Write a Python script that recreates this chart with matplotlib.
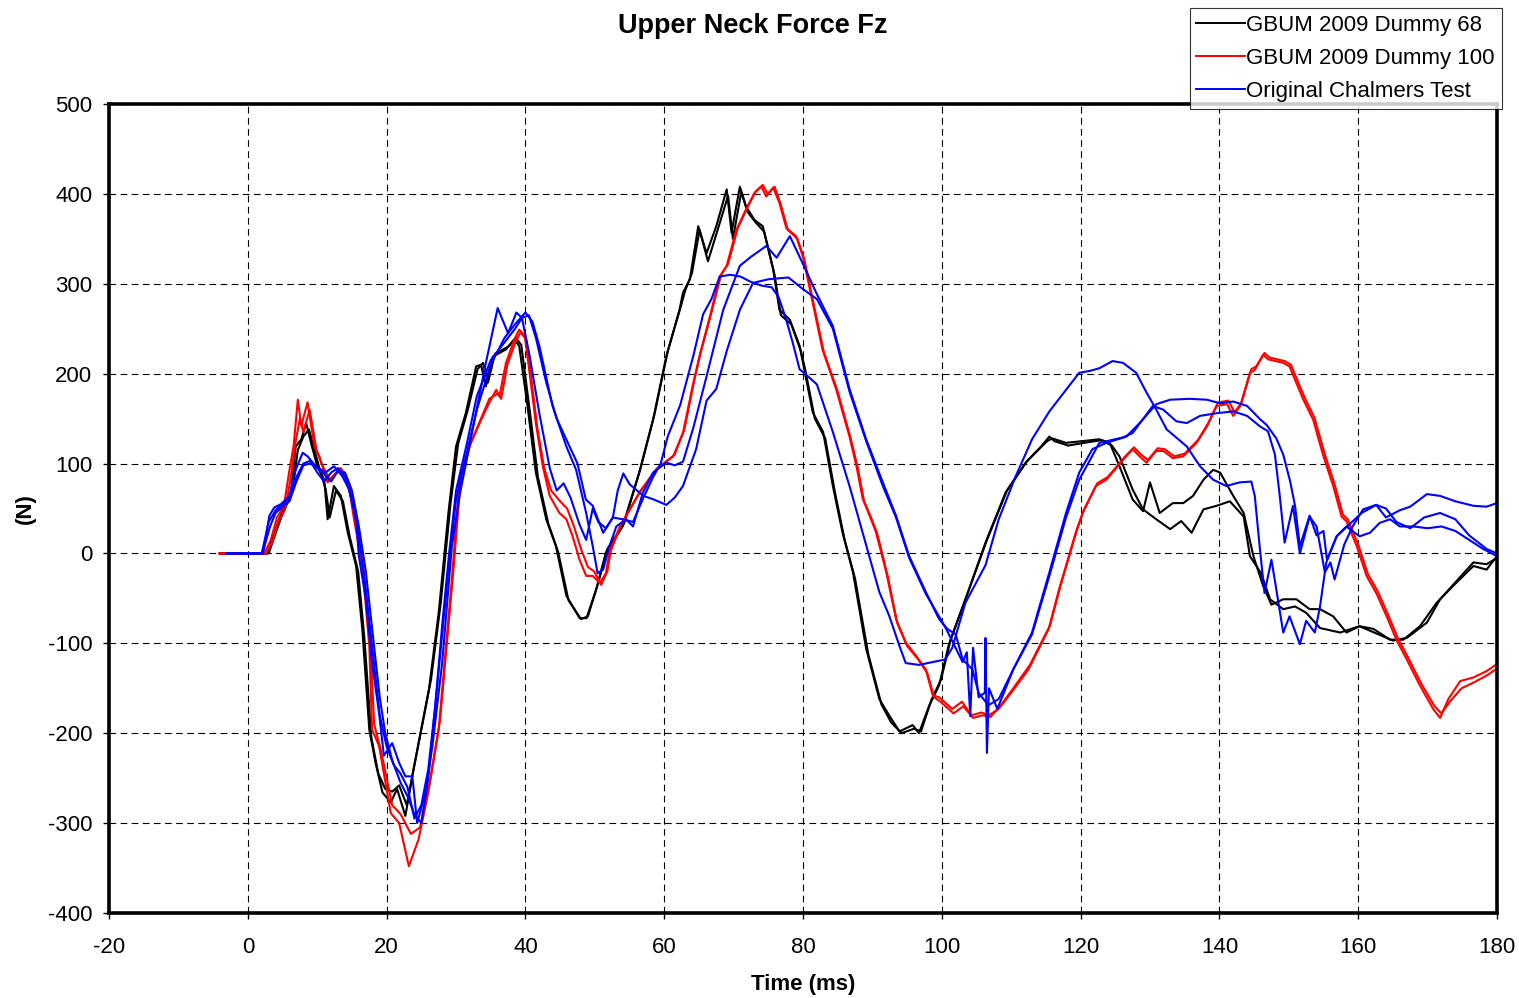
import numpy as np
import matplotlib
matplotlib.use("Agg")
import matplotlib.pyplot as plt

plt.rcParams['font.family'] = ['Liberation Sans', 'DejaVu Sans']
plt.rcParams['axes.unicode_minus'] = False

# Upper neck axial force, (time ms, force N) samples for each test
dummy68_a = [
    (-4, 0), (2.8, 0), (3.5, 15), (4.5, 38), (5.5, 55), (6.2, 67), (6.9, 119), (7.7, 127),
    (8.4, 145), (9.1, 123), (10, 97), (11, 82), (11.5, 38), (12.4, 75), (13.4, 64),
    (14.4, 23), (15.6, -14), (16.5, -85), (17.5, -196), (18.4, -233), (19.4, -266),
    (20.6, -277), (21.5, -262), (22.7, -292), (23.7, -248), (24.9, -199), (26.1, -151),
    (27.5, -66), (28.9, 45), (30, 119), (31.4, 156), (32.9, 208), (33.6, 210), (34.3, 186),
    (35.3, 219), (37.2, 227), (38.4, 238), (39.1, 231), (40.3, 164), (41.5, 90), (43, 38),
    (44.4, 8), (45.9, -47), (47.8, -72), (48.8, -72), (50.2, -40), (51.6, 1), (54, 30),
    (56.4, 90), (58.4, 149), (60.3, 219), (62.2, 271), (62.7, 290), (63.7, 305), (64.9, 364),
    (66.1, 334), (67.5, 364), (69, 405), (69.7, 357), (70.9, 408), (71.8, 386), (73, 371),
    (74.2, 364), (75.7, 316), (76.6, 271), (78.1, 260), (79.5, 231), (80, 212), (81.4, 157),
    (82.9, 135), (84.3, 75), (85.7, 23), (87.2, -21), (89.1, -106), (91, -162), (92.4, -180),
    (93.9, -198), (95.8, -191), (96.7, -200), (98.2, -169), (99.6, -147), (101, -102),
    (103.4, -51), (106.3, 12), (109.2, 68), (112.1, 101), (114, 116), (115.2, 125),
    (115.9, 128), (117.9, 123), (120.3, 125), (122.7, 127), (124.2, 123), (125.6, 97),
    (127.5, 60), (129, 47), (130, 79), (131.4, 45), (133.3, 56), (134.8, 56), (136.2, 64),
    (137.7, 82), (139.1, 93), (140.1, 90), (142, 64), (143.5, 45), (144.9, -3), (146.3, -36),
    (147.5, -57), (149.2, -51), (151.1, -51), (153, -62), (154.5, -62), (156.4, -70),
    (158.3, -88), (160.2, -81), (162.2, -84), (164.6, -96), (166.5, -96), (168.9, -81),
    (171.3, -55), (173.7, -36), (176.6, -14), (178.5, -18), (180, -3),
]
dummy68_b = [
    (-4, 0), (3.0, 0), (3.8, 18), (4.8, 40), (5.8, 58), (6.5, 75), (7.2, 115), (8, 130),
    (8.8, 138), (9.5, 118), (10.4, 92), (11.2, 72), (11.8, 40), (12.7, 70), (13.7, 58),
    (14.7, 18), (15.9, -20), (16.8, -95), (17.8, -205), (18.8, -245), (19.8, -262),
    (20.8, -265), (21.8, -258), (22.9, -280), (24, -235), (25.2, -188), (26.4, -140),
    (27.8, -55), (29.2, 55), (30.3, 122), (31.7, 160), (33.1, 205), (33.9, 212), (34.6, 190),
    (35.6, 222), (37.5, 230), (38.6, 240), (39.4, 232), (40.6, 160), (41.8, 85), (43.3, 33),
    (44.7, 2), (46.2, -52), (48, -73), (49, -70), (50.4, -35), (51.8, 5), (54.2, 33),
    (56.6, 95), (58.6, 155), (60.5, 225), (62.4, 275), (63, 292), (64, 312), (65.1, 360),
    (66.3, 325), (67.7, 360), (69.2, 398), (69.9, 350), (71.1, 402), (72, 380), (73.2, 368),
    (74.4, 358), (75.9, 310), (76.8, 265), (78.3, 255), (79.7, 225), (80.3, 205), (81.7, 150),
    (83.2, 128), (84.6, 68), (86, 15), (87.5, -28), (89.4, -112), (91.3, -168), (92.7, -188),
    (94.2, -200), (96, -195), (97, -198), (98.5, -163), (99.9, -140), (101.3, -95),
    (103.7, -45), (106.5, 15), (109.4, 70), (112.3, 103), (114.2, 118), (115.5, 130),
    (116.2, 125), (118.2, 120), (120.5, 123), (123, 126), (124.5, 120), (125.6, 108),
    (127.5, 71), (129, 49), (130.9, 38), (132.9, 27), (134.5, 36), (136, 23), (137.7, 49),
    (139.6, 53), (141.5, 58), (143.5, 41), (144.4, -3), (146, -22), (147.3, -51),
    (149.2, -62), (150.9, -59), (152.5, -66), (154.5, -83), (157.4, -88), (160.2, -81),
    (165, -97), (167, -94), (169.9, -77), (171.8, -51), (176.6, -10), (178.5, -12), (180, -5),
]
dummy100_a = [
    (-4.1, 0), (2.4, 0), (3.3, 15), (4.2, 40), (5.2, 53), (6, 93), (6.6, 120), (7.2, 171),
    (7.7, 142), (8.6, 168), (9.6, 119), (10.3, 108), (11.5, 79), (12.5, 88), (13.4, 95),
    (14.4, 82), (15.3, 38), (16.5, -14), (17.5, -103), (17.9, -196), (18.9, -214),
    (20.6, -289), (21.8, -300), (23.2, -348), (24.6, -318), (26, -266), (27.5, -196),
    (29.4, -29), (30.5, 82), (31.9, 119), (33.4, 145), (34.8, 168), (35.8, 182), (36.25, 175),
    (37.2, 212), (38.4, 238), (39.1, 249), (39.9, 242), (40.6, 201), (41.5, 145), (42.5, 97),
    (43.5, 64), (44.9, 45), (45.9, 38), (46.8, 19), (47.8, -7), (48.75, -25), (49.7, -25),
    (50.7, -33), (51.6, -22), (52.1, 1), (53.6, 30), (56.4, 67), (58.8, 93), (59.4, 97),
    (61.3, 108), (62.7, 134), (64.2, 190), (65.1, 220), (66.6, 264), (68, 308), (69, 320),
    (70.4, 360), (71.8, 383), (73, 401), (74, 408), (74.7, 397), (75.7, 407), (76.6, 390),
    (77.6, 362), (79, 353), (80, 330), (81.4, 279), (82.8, 227), (84.8, 182), (86.7, 130),
    (87.7, 97), (88.6, 61), (89.6, 42), (90.5, 24), (92, -21), (93.4, -73), (94.8, -99),
    (96.3, -114), (97.7, -129), (98.7, -158), (99.6, -160), (101.5, -173), (102.9, -165),
    (104.3, -180), (105.7, -177), (106.8, -180), (108.2, -173), (110.1, -154), (112.5, -129),
    (115.4, -84), (116.9, -40), (119.3, 23), (120.3, 45), (122.2, 75), (123.7, 82),
    (124.6, 90), (126.1, 104), (127.5, 116), (128.5, 108), (129.5, 101), (130.9, 114),
    (131.9, 114), (133.3, 106), (134.8, 108), (136.7, 123), (138.2, 141), (139.6, 164),
    (141.1, 166), (142, 153), (143, 164), (144.4, 201), (145.1, 204), (146.3, 221), (147, 216),
    (149.2, 212), (150.1, 208), (152.1, 171), (153.5, 149), (155, 108), (156.4, 75),
    (157.6, 41), (158.3, 36), (159.8, 8), (161.2, -25), (162.6, -44), (164.1, -70),
    (165.5, -96), (167, -118), (168.9, -147), (170.8, -173), (171.8, -183), (173, -162),
    (174.7, -142), (176.6, -138), (178.5, -131), (180, -123),
]
dummy100_b = [
    (-4.1, 0), (2.6, 0), (3.5, 12), (4.4, 35), (5.4, 50), (6.2, 85), (6.9, 125), (7.5, 150),
    (8, 135), (8.9, 160), (9.9, 115), (10.6, 100), (11.8, 82), (12.8, 90), (13.6, 92),
    (14.6, 78), (15.5, 35), (16.7, -20), (17.7, -110), (18.2, -190), (19.2, -220),
    (20.8, -280), (22, -290), (23.5, -312), (24.8, -305), (26.2, -255), (27.7, -185),
    (29.6, -20), (30.7, 85), (32.1, 122), (33.6, 150), (34.8, 172), (36, 178), (36.5, 172),
    (37.4, 210), (38.6, 236), (39.3, 246), (40.1, 238), (40.8, 198), (41.7, 140), (42.7, 95),
    (43.7, 70), (45, 58), (46, 50), (47, 30), (48, 5), (49, -15), (49.9, -20), (50.9, -35),
    (51.8, -20), (52.3, 3), (53.8, 32), (56.6, 70), (59, 95), (59.6, 98), (61.5, 110),
    (62.9, 138), (64.4, 195), (65.3, 225), (66.8, 268), (68.2, 310), (69.2, 322), (70.6, 362),
    (72, 385), (73.2, 403), (74.2, 410), (74.9, 400), (75.9, 408), (76.8, 388), (77.8, 360),
    (79.2, 350), (80.2, 327), (81.6, 275), (83, 224), (85, 180), (86.9, 127), (87.9, 95),
    (88.8, 58), (89.8, 40), (90.7, 22), (92.2, -25), (93.6, -78), (95, -103), (96.5, -117),
    (97.9, -133), (98.9, -160), (99.8, -165), (101.7, -178), (103.1, -170), (104.5, -183),
    (105.9, -180), (107, -182), (108.4, -170), (110.3, -150), (112.7, -124), (115.6, -80),
    (117.1, -36), (119.5, 27), (120.5, 49), (122.4, 78), (123.9, 85), (124.8, 93),
    (126.3, 107), (127.7, 118), (128.7, 110), (129.7, 104), (131.1, 117), (132.1, 116),
    (133.5, 108), (135, 111), (136.9, 126), (138.4, 145), (139.8, 168), (141.3, 170),
    (142.2, 157), (143.2, 168), (144.6, 205), (145.3, 208), (146.5, 223), (147.2, 218),
    (149.4, 214), (150.3, 210), (152.3, 173), (153.7, 151), (155.2, 110), (156.6, 77),
    (157.8, 43), (158.5, 38), (160, 10), (161.4, -23), (162.8, -42), (164.3, -68),
    (165.7, -94), (167.2, -116), (169.1, -145), (171, -170), (172, -178), (173.2, -165),
    (174.9, -150), (176.8, -143), (178.7, -135), (180, -128),
]
chalmers_a = [
    (-3, 0), (2.2, 0), (3.1, 42), (3.8, 51), (4.8, 55), (6, 64), (6.9, 93), (7.9, 112),
    (8.6, 108), (9.8, 97), (11.2, 90), (12.4, 97), (13.6, 86), (14.6, 71), (15.6, 38),
    (16, -3), (17, -51), (17.9, -122), (18.9, -177), (19.6, -225), (20.8, -211), (21.8, -233),
    (22.7, -248), (23.7, -248), (24.4, -300), (25.6, -266), (26.6, -214), (28, -122),
    (29.4, 8), (30.5, 64), (32.4, 138), (34.3, 212), (36, 273), (37.5, 245), (38.7, 268),
    (39.5, 262), (40.6, 220), (42, 156), (43.5, 95), (44.5, 70), (45.5, 78), (46.5, 62),
    (47.8, 32), (48.75, 15), (49.7, 50), (50.5, 35), (51.6, 28), (52.6, 40), (54, 38),
    (55.5, 35), (57, 62), (58.4, 85), (59.5, 100), (60.5, 130), (62.3, 165), (64.2, 220),
    (65.6, 266), (66.8, 283), (68, 308), (69.5, 310), (71, 308), (72.5, 302), (74, 298),
    (75.5, 296), (76.5, 285), (77.5, 262), (78.5, 235), (79.5, 205), (81, 195), (82, 188),
    (84.3, 135), (86.7, 75), (89.1, 9), (91, -43), (92.4, -69), (93.9, -103), (94.8, -122),
    (96.7, -124), (98.6, -121), (100.5, -118), (101.5, -105), (103.4, -55), (106.3, -13),
    (108.2, 38), (110.6, 85), (113, 127), (115.5, 158), (117.9, 182), (119.8, 201),
    (121.3, 203), (122.7, 206), (124.6, 214), (126.1, 212), (128, 201), (129.5, 179),
    (130.9, 160), (132.4, 138), (135.3, 119), (137.2, 97), (139.1, 82), (141, 75),
    (142.9, 79), (144.6, 80), (145.1, 64), (145.8, 8), (146.5, -44), (147.5, -7),
    (148.2, -40), (149.2, -88), (150.1, -70), (151.6, -101), (152.5, -75), (153.75, -88),
    (154.5, -59), (155.4, -10), (156.9, 19), (158.3, 30), (160.2, 19), (161.7, 23),
    (163.1, 34), (164.6, 38), (166, 30), (168, 30), (170, 28), (172, 30), (174, 25),
    (176, 15), (178, 5), (180, -3),
]
chalmers_b = [
    (-3, 0), (2.0, 0), (3.0, 35), (4, 48), (5, 55), (6, 62), (7, 85), (8, 100), (9, 103),
    (10, 90), (11, 80), (12, 90), (13, 95), (14, 85), (15, 60), (16, 20), (17, -40),
    (18, -110), (19, -180), (20, -215), (21, -235), (22, -245), (23, -260), (24, -295),
    (25, -280), (26, -240), (27, -170), (28, -90), (29, -10), (30, 60), (31.5, 110),
    (33, 160), (35, 210), (37, 240), (38.5, 255), (40, 268), (41, 258), (42, 231),
    (43.9, 164), (45.9, 119), (47.3, 93), (48.75, 45), (49.7, 8), (50.4, -22), (51.2, -18),
    (52.1, 8), (53.1, 30), (54.5, 38), (55.5, 30), (56.9, 67), (58.4, 90), (60.3, 101),
    (61.5, 98), (62.7, 102), (64.2, 140), (66.1, 197), (68.5, 271), (70.9, 320), (72.5, 330),
    (74.7, 342), (76.2, 329), (78.1, 353), (80, 322), (81.9, 290), (84.3, 253), (86.7, 183),
    (89.1, 127), (91.5, 79), (93.4, 42), (95.3, -3), (97.7, -43), (99.6, -73), (100.8, -84),
    (102, -90), (103, -118), (104.4, -129), (105.3, -155), (106.7, -169), (108.2, -162),
    (110.3, -129), (113, -88), (115.5, -21), (117.9, 45), (119.8, 90), (121.7, 116),
    (123.7, 123), (126.6, 130), (128.5, 145), (130.9, 166), (132.9, 171), (135.7, 172),
    (138.2, 171), (140.1, 167), (142, 169), (144, 164), (145.9, 149), (146.8, 143),
    (148.2, 128), (149.2, 110), (150.2, 80), (150.9, 53), (151.6, 8), (153, 42), (154, 20),
    (155, 25), (155.5, -7), (156.9, 19), (158.4, 30), (160.5, 45), (162.6, 54), (164, 50),
    (165.5, 35), (167.5, 28), (169.5, 40), (171.8, 45), (174, 38), (176, 20), (178.5, 5),
    (180, 0),
]
chalmers_c = [
    (-3, 0), (2.1, 0), (3.2, 30), (4, 45), (5, 52), (6, 58), (7, 80), (8, 98), (9, 100),
    (10, 95), (11, 88), (12, 80), (13, 92), (14, 90), (15, 70), (16, 30), (17, -20),
    (18, -90), (19, -160), (19.8, -200), (20.8, -230), (22, -255), (23, -270), (24, -290),
    (25, -300), (26, -250), (27, -170), (28, -80), (29, 0), (30, 70), (31.5, 120), (33, 175),
    (35, 215), (37, 235), (38.5, 250), (39.5, 262), (40.5, 265), (41.5, 240), (43, 190),
    (44.5, 150), (46, 125), (47.5, 100), (48.7, 60), (49.7, 53), (51.2, 23), (52.6, 40),
    (53.3, 70), (54.1, 89), (55, 77), (57, 64), (58.5, 60), (60.3, 54), (61.5, 62),
    (62.7, 75), (64.6, 116), (66.1, 170), (67.5, 183), (69, 225), (70.9, 271), (72.8, 301),
    (75, 305), (77.9, 307), (80, 294), (82, 283), (84.3, 250), (86.7, 180), (89.1, 125),
    (91.5, 75), (93.4, 40), (95.3, -5), (97.7, -45), (99.6, -70), (100.7, -85), (101.6, -99),
    (103, -121), (103.6, -110), (104.1, -181), (104.5, -105), (105.3, -160), (106.2, -155),
    (106.3, -94), (106.5, -222), (106.8, -150), (108, -173), (110.3, -129), (113, -90),
    (115.5, -25), (117.9, 40), (119.8, 82), (122.7, 123), (126.1, 129), (127.5, 134),
    (130.4, 164), (131.9, 160), (133.8, 147), (135.3, 145), (137.2, 153), (139.6, 156),
    (142, 158), (144, 153), (145.9, 141), (147, 136), (148, 110), (148.7, 64), (149.4, 12),
    (150.6, 53), (151.6, 0), (153, 41), (154, 30), (155.2, -21), (156, -10), (156.6, -29),
    (158, 10), (159.2, 30), (160.7, 49), (162.6, 54), (164, 40), (166, 48), (167.5, 52),
    (169.9, 66), (171.8, 64), (174, 58), (176.6, 53), (178.5, 52), (180, 56),
]

series = [
    ('GBUM 2009 Dummy 68', 'black', [dummy68_a, dummy68_b]),
    ('GBUM 2009 Dummy 100', 'red', [dummy100_a, dummy100_b]),
    ('Original Chalmers Test', 'blue', [chalmers_a, chalmers_b, chalmers_c]),
]

x_ticks = np.arange(-20, 181, 20)
y_ticks = np.arange(-400, 501, 100)

FONT_SIZE = 16

fig = plt.figure(figsize=(15.19, 9.98), dpi=100)
ax = fig.add_axes([0.0718, 0.0852, 0.9137, 0.8106])

handles = []
for label, color, runs in series:
    for i, run in enumerate(runs):
        t, f = np.array(run).T
        ln, = ax.plot(t, f, color=color, lw=1.5, label=label if i == 0 else None)
        if i == 0:
            handles.append(ln)

ax.set_xlim(-20, 180)
ax.set_ylim(-400, 500)
ax.set_xticks(x_ticks)
ax.set_yticks(y_ticks)
ax.tick_params(direction='out', length=4, width=1, labelsize=FONT_SIZE)
ax.tick_params(axis='x', pad=13)
ax.tick_params(axis='y', pad=8)
ax.grid(True, color='black', linestyle=(0, (6, 4)), linewidth=0.8)
for sp in ax.spines.values():
    sp.set_linewidth(2.6)
    sp.set_zorder(5)

ax.set_xlabel('Time (ms)', fontsize=FONT_SIZE, fontweight='bold', va='center')
ax.set_ylabel('(N)', fontsize=FONT_SIZE, fontweight='bold', va='center')
ax.xaxis.set_label_coords(0.5, -0.089)
ax.yaxis.set_label_coords(-0.0605, 0.5)
fig.text(0.4957, 0.974, 'Upper Neck Force Fz', ha='center', va='center',
         fontsize=19.5, fontweight='bold')

leg = fig.legend(handles=handles, loc='upper right', bbox_to_anchor=(0.9885, 0.992),
                 fontsize=FONT_SIZE, frameon=True, fancybox=False, shadow=False,
                 handlelength=2.2, handletextpad=0.05, labelspacing=0.55,
                 borderpad=0.3, borderaxespad=0.0)
leg.get_frame().set_edgecolor('black')
leg.get_frame().set_linewidth(0.8)
leg.set_zorder(10)
for h in leg.get_lines():
    h.set_linewidth(1.4)

fig.savefig('out.png', dpi=100)
